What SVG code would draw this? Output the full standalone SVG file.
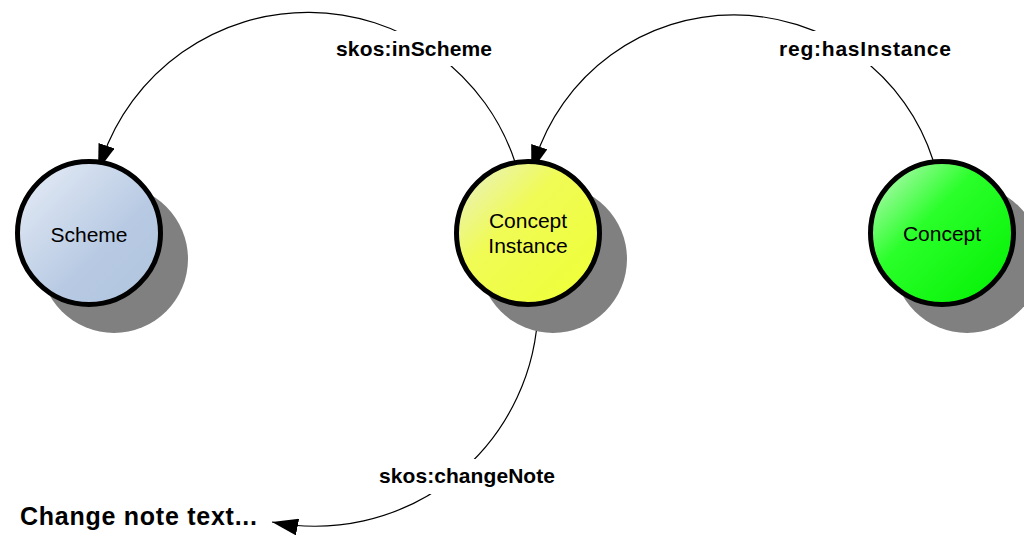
<svg xmlns="http://www.w3.org/2000/svg" width="1024" height="536" viewBox="0 0 1024 536">
  <style>
    .shadow { fill: #808080; }
    .node { stroke: #000; stroke-width: 5; }
    .node-label { font-family: "Liberation Sans", Arial, sans-serif; font-size: 21px; fill: #000; text-anchor: middle; }
    .edge { fill: none; stroke: #000; stroke-width: 1.2; }
    .edge-label { font-family: "Liberation Sans", Arial, sans-serif; font-size: 21px; font-weight: bold; fill: #000; text-anchor: middle; }
    .label-bg { fill: #fff; }
    .note { font-family: "Liberation Sans", Arial, sans-serif; font-size: 25px; font-weight: bold; fill: #000; }
  </style>
  <defs>
    <linearGradient id="fill-scheme" x1="0" y1="0" x2="1" y2="1">
      <stop offset="0" stop-color="#e8eef7"/>
      <stop offset="0.6" stop-color="#b8cae3"/>
      <stop offset="1" stop-color="#b0c4de"/>
    </linearGradient>
    <linearGradient id="fill-instance" x1="0" y1="0" x2="1" y2="1">
      <stop offset="0" stop-color="#e8f0d0"/>
      <stop offset="0.4" stop-color="#f0fb55"/>
      <stop offset="1" stop-color="#eeff33"/>
    </linearGradient>
    <linearGradient id="fill-concept" x1="0" y1="0" x2="1" y2="1">
      <stop offset="0" stop-color="#d0f8d0"/>
      <stop offset="0.4" stop-color="#2aff2a"/>
      <stop offset="1" stop-color="#00f000"/>
    </linearGradient>
    <!-- arrowhead whose tip sits on the path end -->
    <marker id="arrow-tip" markerUnits="userSpaceOnUse" viewBox="0 0 26 17" markerWidth="26" markerHeight="17" refX="26" refY="8.5" orient="auto">
      <path d="M0,0 L26,8.5 L0,17 z" fill="#000"/>
    </marker>
    <!-- arrowhead that runs on past the path end, under the target node -->
    <marker id="arrow-into" markerUnits="userSpaceOnUse" viewBox="0 0 26 17" markerWidth="26" markerHeight="17" refX="14" refY="8.5" orient="auto">
      <path d="M0,0 L26,8.5 L0,17 z" fill="#000"/>
    </marker>
  </defs>

  <rect width="1024" height="536" fill="#fff"/>

  <g id="connectors">
    <path id="edge-inScheme" class="edge" d="M515,162 A218,218 0 0,0 102,159" marker-end="url(#arrow-into)"/>
    <path id="edge-hasInstance" class="edge" d="M933,160 A209,209 0 0,0 535,160" marker-end="url(#arrow-into)"/>
    <path id="edge-changeNote" class="edge" d="M538,308 A223,223 0 0,1 272,522" marker-end="url(#arrow-tip)"/>
    <g id="edge-labels">
      <rect class="label-bg" x="326" y="31" width="176" height="35"/>
      <text class="edge-label" x="414" y="56" textLength="156">skos:inScheme</text>
      <rect class="label-bg" x="770" y="31" width="190" height="35"/>
      <text class="edge-label" x="865" y="56" textLength="172">reg:hasInstance</text>
      <rect class="label-bg" x="370" y="459" width="195" height="35"/>
      <text class="edge-label" x="467" y="483" textLength="176">skos:changeNote</text>
    </g>
  </g>

  <g id="node-scheme">
    <circle class="shadow" cx="114" cy="259" r="74"/>
    <circle class="node" cx="89" cy="233" r="71.5" fill="url(#fill-scheme)"/>
    <text class="node-label" x="89" y="242">Scheme</text>
  </g>

  <g id="node-concept-instance">
    <circle class="shadow" cx="553" cy="259" r="74"/>
    <circle class="node" cx="528" cy="233" r="71.5" fill="url(#fill-instance)"/>
    <text class="node-label" x="528" y="228">Concept</text>
    <text class="node-label" x="528" y="253">Instance</text>
  </g>

  <g id="node-concept">
    <circle class="shadow" cx="967" cy="259" r="74"/>
    <circle class="node" cx="942" cy="233" r="71.5" fill="url(#fill-concept)"/>
    <text class="node-label" x="942" y="241">Concept</text>
  </g>

  <g id="node-change-note">
    <text class="note" x="20" y="525" textLength="237">Change note text...</text>
  </g>
</svg>
